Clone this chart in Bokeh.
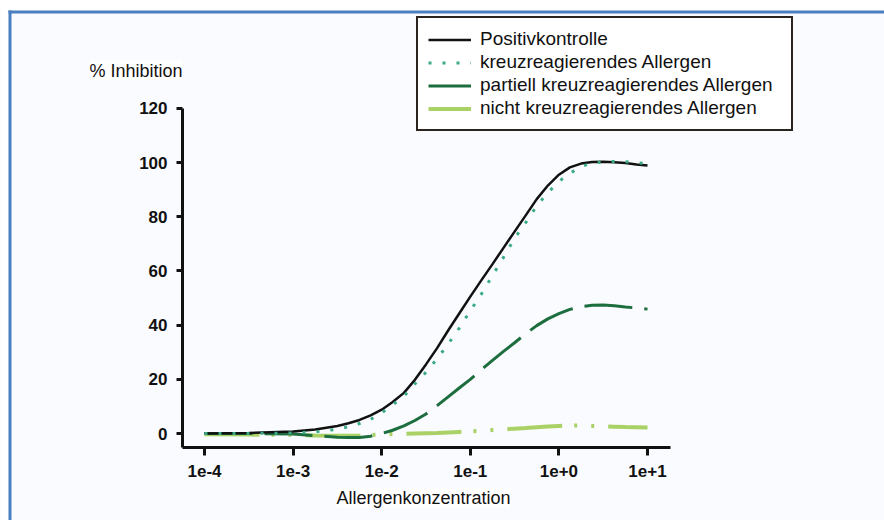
from bokeh.plotting import figure
from bokeh.models import (Range1d, FixedTicker, Legend, LegendItem, Label, BoxAnnotation)
from bokeh.embed import file_html
from bokeh.resources import INLINE

# ---- data ----
concentration = [1e-4, 3.16e-4, 1e-3, 1.78e-3, 3.16e-3, 4.22e-3, 5.62e-3, 7.5e-3,
                 1e-2, 1.33e-2, 1.78e-2, 2.37e-2, 3.16e-2, 4.22e-2, 5.62e-2, 7.5e-2,
                 0.1, 0.133, 0.178, 0.237, 0.316, 0.422, 0.562, 0.75,
                 1.0, 1.33, 1.78, 2.37, 3.16, 4.22, 5.62, 7.5, 10.0]
positivkontrolle = [0.0, 0.2, 0.7, 1.5, 2.8, 3.8, 5.0, 6.7,
                    8.8, 11.6, 15.0, 19.8, 25.5, 31.5, 38.0, 44.3,
                    50.5, 56.5, 62.5, 68.5, 74.5, 80.5, 86.5, 91.5,
                    95.5, 98.2, 99.6, 100.2, 100.3, 100.1, 99.8, 99.3, 98.9]
kreuzreagierend = [0.0, 0.0, 0.2, 0.6, 1.6, 2.5, 3.7, 5.2,
                   7.6, 10.6, 13.7, 18.3, 22.6, 27.6, 33.0, 38.9,
                   45.3, 51.4, 58.3, 65.0, 72.0, 77.8, 84.0, 88.8,
                   93.0, 96.0, 98.5, 99.8, 100.2, 100.4, 100.3, 100.0, 99.5]
partiell = [0.0, 0.0, -0.2, -0.8, -1.4, -1.5, -1.5, -1.0,
            0.0, 1.2, 2.8, 4.8, 7.2, 10.3, 13.5, 16.8,
            20.0, 23.5, 27.0, 30.3, 33.5, 36.8, 39.8, 42.3,
            44.2, 45.8, 46.8, 47.3, 47.4, 47.1, 46.7, 46.3, 45.9]
nicht = [-0.3, -0.4, -0.5, -0.7, -0.8, -0.8, -0.8, -0.6,
         -0.3, -0.2, -0.1, 0.0, 0.1, 0.2, 0.4, 0.6,
         0.8, 1.0, 1.3, 1.5, 1.8, 2.0, 2.3, 2.6,
         2.8, 2.9, 3.0, 2.8, 2.6, 2.5, 2.4, 2.3, 2.2]

x_ticks = [1e-4, 1e-3, 1e-2, 1e-1, 1e0, 1e1]
x_tick_labels = ["1e-4", "1e-3", "1e-2", "1e-1", "1e+0", "1e+1"]
y_ticks = [0, 20, 40, 60, 80, 100, 120]

series_names = ["Positivkontrolle", "kreuzreagierendes Allergen",
                "partiell kreuzreagierendes Allergen", "nicht kreuzreagierendes Allergen"]
y_label = "% Inhibition"
x_label = "Allergenkonzentration"

BG = "#f9fbfe"
BLUE = "#4a7fc0"
FONT = "Liberation Sans"
W, H = 884, 520

# the frame covers the whole canvas; the axes are placed at fixed locations
p = figure(width=W, height=H, x_axis_type="log",
           x_range=Range1d(10 ** -6.3025, 10 ** 3.6749), y_range=Range1d(-32.1, 159.78),
           output_backend="svg", toolbar_location=None,
           min_border_left=0, min_border_right=0, min_border_top=0, min_border_bottom=0,
           background_fill_color=BG, border_fill_color=BG)
p.outline_line_color = None
p.grid.visible = False

x_lo, x_hi = 10 ** -4.248, 10 ** 1.26
y_lo, y_hi = -5.17, 120

for ax in (p.xaxis[0], p.yaxis[0]):
    ax.axis_line_width = 3
    ax.axis_line_color = "#111111"
    ax.major_tick_line_width = 3
    ax.major_tick_line_color = "#111111"
    ax.major_tick_in = 0
    ax.minor_tick_line_color = None
    ax.major_label_text_font = FONT
    ax.major_label_text_font_style = "bold"
    ax.major_label_text_font_size = "17px"
    ax.major_label_text_color = "#111111"

p.xaxis.ticker = FixedTicker(ticks=x_ticks, minor_ticks=[])
p.xaxis.major_label_overrides = {t: l for t, l in zip(x_ticks, x_tick_labels)}
p.xaxis.major_tick_out = 8
p.xaxis.major_label_standoff = 9
p.xaxis.fixed_location = y_lo
p.xaxis.bounds = (x_lo, x_hi)
p.yaxis.ticker = FixedTicker(ticks=y_ticks, minor_ticks=[])
p.yaxis.major_tick_out = 6
p.yaxis.major_label_standoff = 9
p.yaxis.fixed_location = x_lo
p.yaxis.bounds = (y_lo, y_hi)

# page frame: white margin with a blue rule at top and left
p.add_layout(BoxAnnotation(right=8, right_units="screen", fill_color="white",
                           fill_alpha=1, line_color=None))
p.add_layout(BoxAnnotation(bottom=H - 10, bottom_units="screen", fill_color="white",
                           fill_alpha=1, line_color=None))
p.add_layout(BoxAnnotation(left=8, left_units="screen", top=H - 10, top_units="screen",
                           bottom=H - 13, bottom_units="screen",
                           fill_color=BLUE, fill_alpha=1, line_color=None))
p.add_layout(BoxAnnotation(left=8, left_units="screen", right=11, right_units="screen",
                           top=H - 10, top_units="screen",
                           fill_color=BLUE, fill_alpha=1, line_color=None))

# curves
r_nicht = p.line(concentration, nicht, line_color="#a9d165", line_width=4,
                 line_dash="55 12 3 14 3 14")
r_part = p.line(concentration, partiell, line_color="#1d6e3e", line_width=3,
                line_dash="48 12")
r_pos = p.line(concentration, positivkontrolle, line_color="#111111", line_width=2.5)
r_kreuz = p.line(concentration, kreuzreagierend, line_color="#3aaa85", line_width=3,
                 line_dash="3 11")

# solid stand-ins for the legend (one undefined point, nothing drawn in the plot)
nan = float("nan")
l_part = p.line(concentration[:1], [nan], line_color="#1d6e3e", line_width=3)
l_nicht = p.line(concentration[:1], [nan], line_color="#a9d165", line_width=4)

legend = Legend(items=[
    LegendItem(label=series_names[0], renderers=[r_pos]),
    LegendItem(label=series_names[1], renderers=[r_kreuz]),
    LegendItem(label=series_names[2], renderers=[l_part]),
    LegendItem(label=series_names[3], renderers=[l_nicht]),
], location=(416, H - 131), orientation="vertical",
    padding=10, spacing=1, margin=0,
    glyph_width=43, glyph_height=21, label_height=21, label_width=301, label_standoff=9,
    label_text_font=FONT, label_text_font_size="19px", label_text_color="#111111",
    border_line_color="#2a2320", border_line_width=2, border_line_alpha=1.0,
    background_fill_color="white", background_fill_alpha=1.0)
p.add_layout(legend, "center")

ylab = Label(x=89, y=H - 70, x_units="screen", y_units="screen", text=y_label,
             text_font=FONT, text_font_size="18px", text_color="#111111",
             text_align="left", text_baseline="middle",
             background_fill_color="white", background_fill_alpha=1.0)
p.add_layout(ylab)
xlab = Label(x=423, y=H - 497, x_units="screen", y_units="screen", text=x_label,
             text_font=FONT, text_font_size="18px", text_color="#111111",
             text_align="center", text_baseline="middle",
             background_fill_color="white", background_fill_alpha=1.0)
p.add_layout(xlab)

open("out.html", "w").write(file_html(p, INLINE))
